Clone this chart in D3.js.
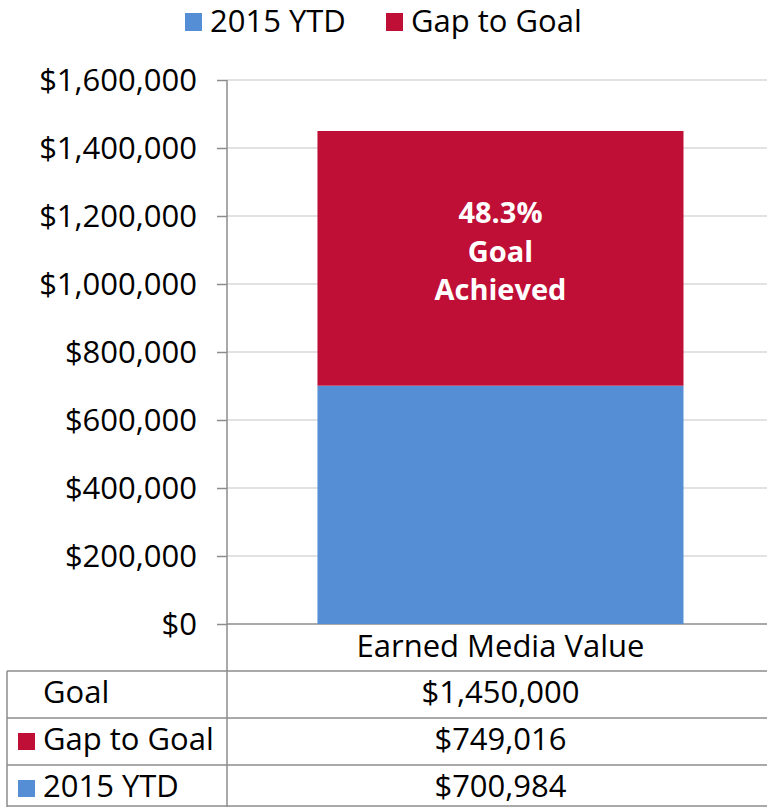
<!DOCTYPE html>
<html>
<head>
<meta charset="utf-8">
<script src="https://cdn.jsdelivr.net/npm/d3@7"></script>
<style>
  body { margin: 0; background: #fff; }
  text { font-family: "Open Sans", Lato, sans-serif; fill: #000; }
</style>
</head>
<body>
<svg id="chart" width="767" height="807"></svg>
<script>
const categories = ["Earned Media Value"];
const seriesNames = ["2015 YTD", "Gap to Goal"];
const ytdValues = [700984];
const gapValues = [749016];
const goalValues = [1450000];
const yTicks = [0, 200000, 400000, 600000, 800000, 1000000, 1200000, 1400000, 1600000];
const barLabel = ["48.3%", "Goal", "Achieved"];

const colors = { "2015 YTD": "#558ed5", "Gap to Goal": "#c00f36" };
const width = 767, height = 807;
const plot = { left: 227, right: 767, top: 80, bottom: 624 };

const svg = d3.select("#chart");
const money = d3.format("$,");

const y = d3.scaleLinear().domain([0, 1600000]).range([plot.bottom, plot.top]);
const x = d3.scaleBand().domain(categories).range([plot.left, plot.right]).padding(0.192).align(0.52);
const xMid = x(categories[0]) + x.bandwidth() / 2;

// gridlines
svg.append("g")
    .selectAll("line")
    .data(yTicks)
    .join("line")
    .attr("x1", plot.left)
    .attr("x2", plot.right)
    .attr("y1", d => y(d))
    .attr("y2", d => y(d))
    .attr("stroke", d => d === 0 ? "#8c8c8c" : "#d9d9d9")
    .attr("stroke-width", 1.5);

// y axis
const yAxis = svg.append("g")
    .attr("transform", `translate(${plot.left},0)`)
    .call(d3.axisLeft(y).tickValues(yTicks).tickFormat(money).tickSize(10).tickPadding(20));
yAxis.select(".domain").remove();
yAxis.selectAll(".tick line").attr("stroke", "#8c8c8c").attr("stroke-width", 1.5);
yAxis.selectAll(".tick text")
    .style("font-size", "31px")
    .attr("dy", "0.34em")
    .attr("fill", "#000");

// stacked bars
const stackData = categories.map((c, i) => ({ cat: c, "2015 YTD": ytdValues[i], "Gap to Goal": gapValues[i] }));
const stacked = d3.stack().keys(seriesNames)(stackData);
svg.append("g")
    .selectAll("g")
    .data(stacked)
    .join("g")
    .attr("fill", d => colors[d.key])
    .selectAll("rect")
    .data(d => d)
    .join("rect")
    .attr("x", d => x(d.data.cat))
    .attr("width", x.bandwidth())
    .attr("y", d => y(d[1]))
    .attr("height", d => y(d[0]) - y(d[1]));

// label inside the gap segment
const labelG = svg.append("text")
    .attr("text-anchor", "middle")
    .style("font-size", "29px")
    .style("font-weight", "bold");
barLabel.forEach((t, i) => {
    labelG.append("tspan")
        .attr("x", xMid)
        .attr("y", 223 + i * 38.5)
        .style("fill", "#fff")
        .text(t);
});

// axis vertical line through plot and table
const line = (x1, y1, x2, y2) => svg.append("line")
    .attr("x1", x1).attr("y1", y1).attr("x2", x2).attr("y2", y2)
    .attr("stroke", "#8c8c8c").attr("stroke-width", 1.5);
line(plot.left, plot.top, plot.left, height);

// category label
svg.append("text")
    .attr("x", xMid)
    .attr("y", 657)
    .attr("text-anchor", "middle")
    .style("font-size", "31px")
    .text(categories[0]);

// data table
const tableRows = [
    { name: "Goal", value: goalValues[0], key: null },
    { name: "Gap to Goal", value: gapValues[0], key: "Gap to Goal" },
    { name: "2015 YTD", value: ytdValues[0], key: "2015 YTD" }
];
const rowTops = [671, 718, 765];
rowTops.forEach(t => line(7, t, plot.right, t));
line(7, rowTops[0], 7, height);
line(7, height - 1, plot.right, height - 1);

const rows = svg.append("g").selectAll("g")
    .data(tableRows)
    .join("g")
    .attr("transform", (d, i) => `translate(0,${rowTops[i]})`);
rows.filter(d => d.key)
    .append("rect")
    .attr("x", 18)
    .attr("y", 15)
    .attr("width", 17)
    .attr("height", 17)
    .attr("fill", d => colors[d.key]);
rows.append("text")
    .attr("x", 43)
    .attr("y", 32)
    .style("font-size", "31px")
    .text(d => d.name);
rows.append("text")
    .attr("x", xMid)
    .attr("y", 32)
    .attr("text-anchor", "middle")
    .style("font-size", "31px")
    .text(d => money(d.value));

// legend
const legend = svg.append("g");
const legendX = [185, 386];
seriesNames.forEach((s, i) => {
    legend.append("rect")
        .attr("x", legendX[i])
        .attr("y", 13)
        .attr("width", 17)
        .attr("height", 18)
        .attr("fill", colors[s]);
    legend.append("text")
        .attr("x", legendX[i] + 25)
        .attr("y", 32)
        .style("font-size", "31px")
        .text(s);
});
</script>
</body>
</html>
